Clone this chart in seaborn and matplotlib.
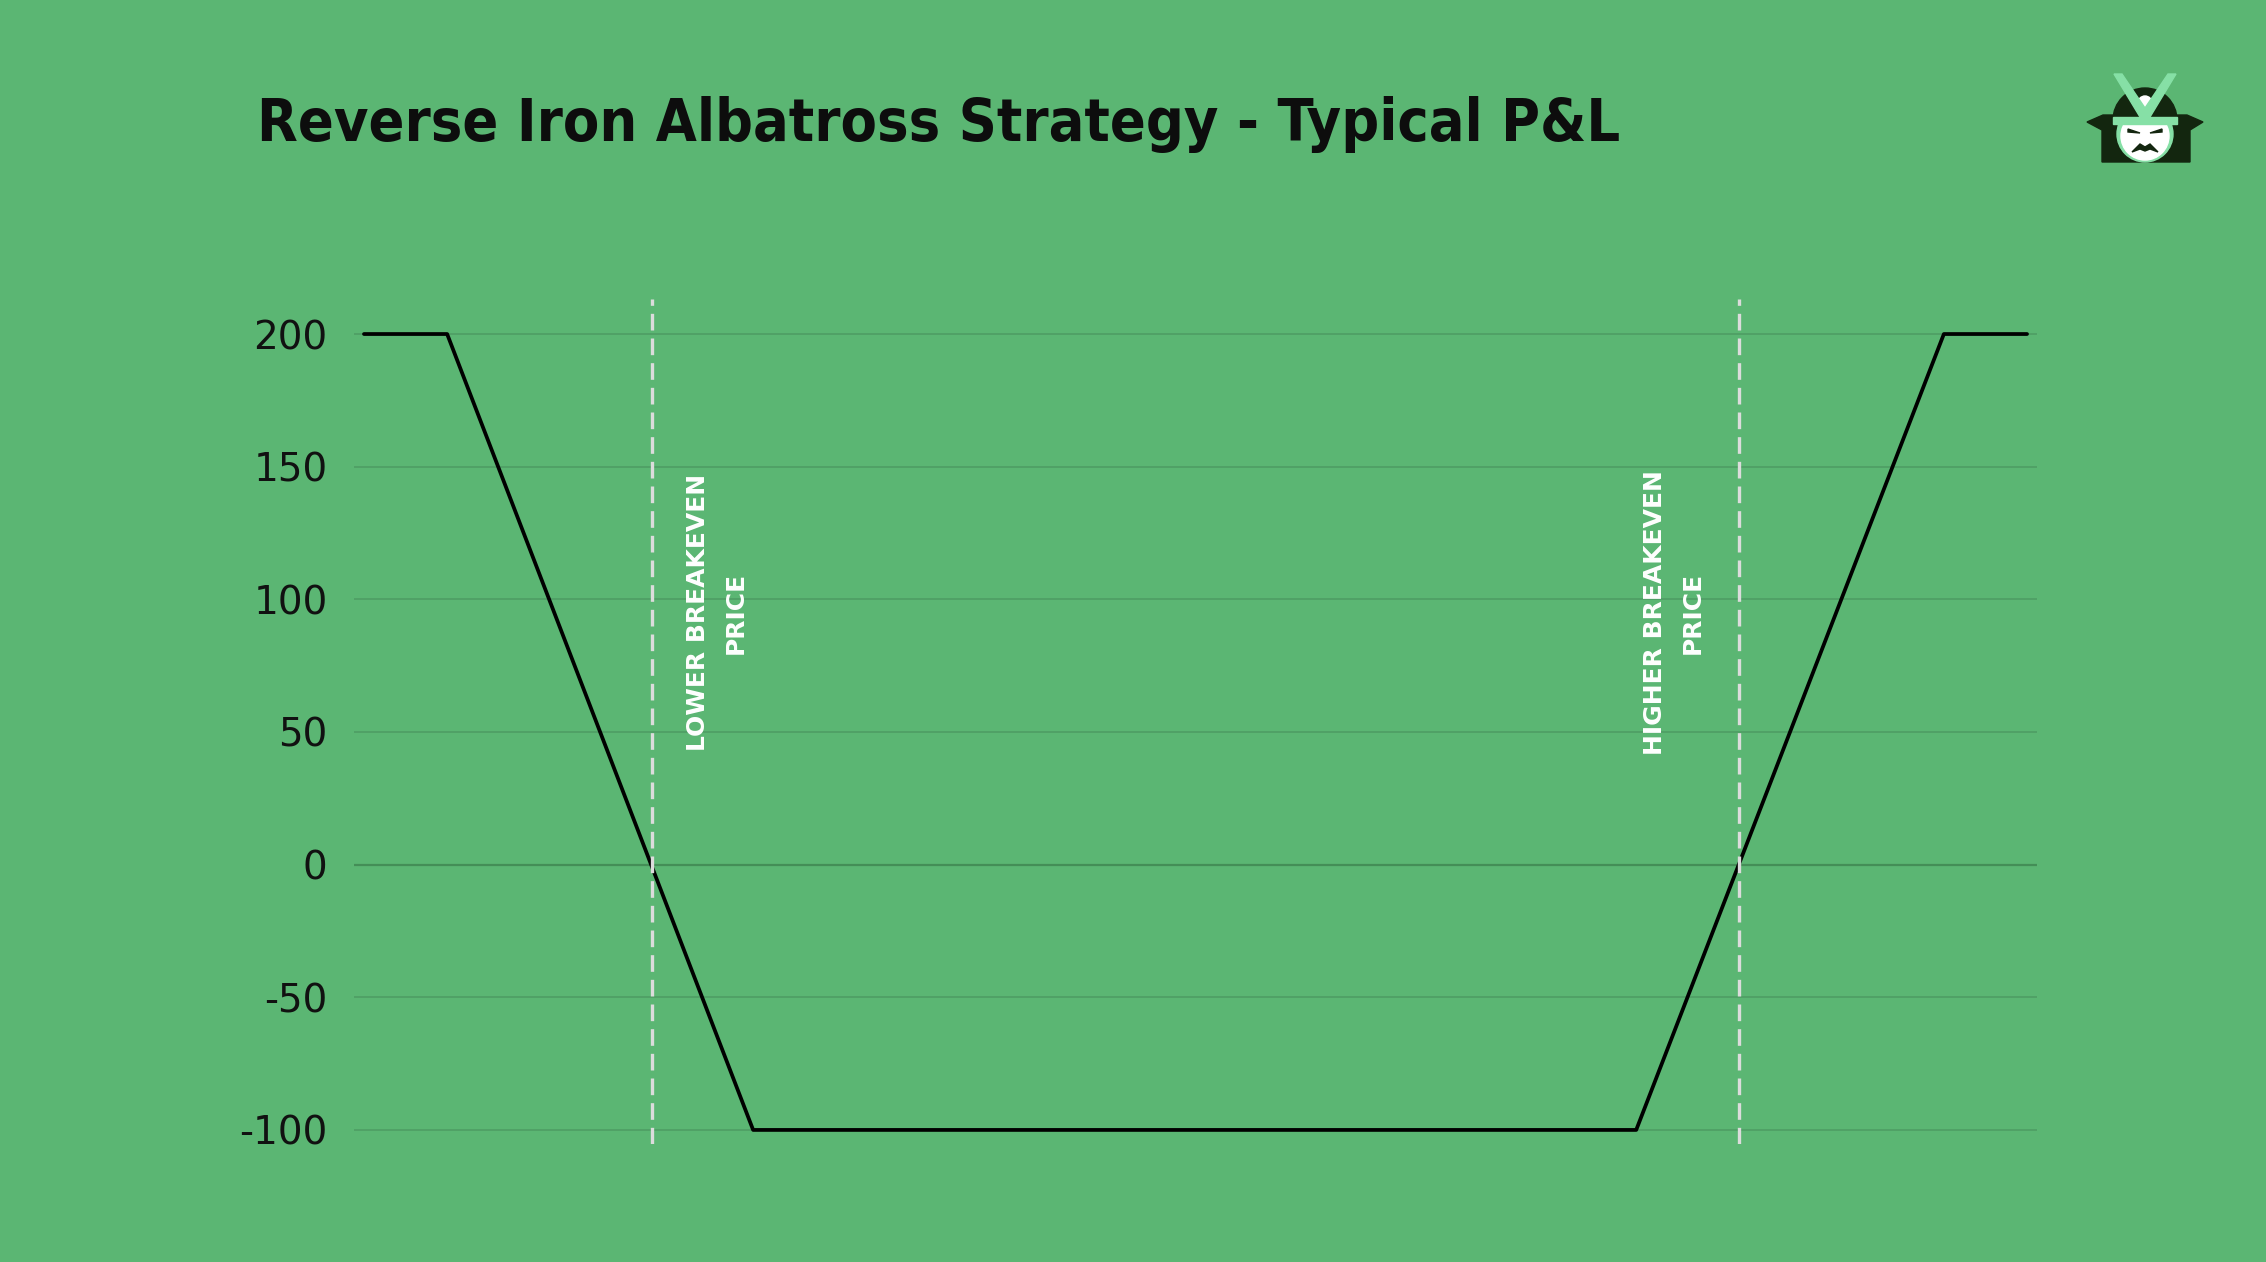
import matplotlib
matplotlib.use("Agg")
import matplotlib.pyplot as plt
import matplotlib.patches as mpatches
import seaborn as sns
import pandas as pd

# P&L at expiry vs underlying price
price = [80, 85, 103.4, 156.5, 175, 180]
pnl = [200, 200, -100, -100, 200, 200]
breakevens = [97.3, 162.7]
be_labels = ["LOWER BREAKEVEN\nPRICE", "HIGHER BREAKEVEN\nPRICE"]
yticks = [-100, -50, 0, 50, 100, 150, 200]
title = "Reverse Iron Albatross Strategy - Typical P&L"

bg = "#5bb673"
grid_c = "#4f9f65"
zero_c = "#448e57"

sns.set_theme(style="white")
plt.rcParams["font.family"] = ["DejaVu Sans"]

fig = plt.figure(figsize=(22.66, 12.62), dpi=100, facecolor=bg)
ax = fig.add_axes([354/2266, 1-1144/1262, 1683/2266, 845/1262])
ax.set_facecolor(bg)

df = pd.DataFrame({"price": price, "pnl": pnl})

for y in yticks:
    ax.axhline(y, color=zero_c if y == 0 else grid_c, lw=1.6 if y == 0 else 1.3, zorder=1)

sns.lineplot(data=df, x="price", y="pnl", color="black", lw=2.7, ax=ax, zorder=3,
             solid_capstyle="round")

for i, (b, lab) in enumerate(zip(breakevens, be_labels)):
    ax.axvline(b, color="#dcdcdc", lw=2.4, dashes=(5, 2.4), zorder=4)
    off = 47 if i == 0 else -47
    ax.annotate(lab, xy=(b, 95), xytext=(off, 0), textcoords="offset points",
                rotation=90, ha="center", va="center", multialignment="center",
                color="white", fontsize=18, fontweight="bold", linespacing=1.75)

ax.set_xlim(79.4, 180.6)
ax.set_ylim(-105.3, 213.2)
ax.set_yticks(yticks)
ax.set_yticklabels([str(v) for v in yticks])
ax.set_xticks([])
ax.tick_params(axis="y", length=0, pad=19, labelsize=28, labelcolor="#111111")
ax.set_xlabel("")
ax.set_ylabel("")
for s in ax.spines.values():
    s.set_visible(False)

fig.text(257/2266, 1-141/1262, title, fontsize=42.5, fontweight="bold",
         fontstretch="condensed", color="#0d0d0d", ha="left", va="baseline")

# logo (simple samurai mark)
lg = fig.add_axes([2070/2266, 1-180/1262, 150/2266, 130/1262])
lg.set_xlim(2070, 2220)
lg.set_ylim(180, 50)
lg.axis("off")
dark = "#13260f"
mint = "#86e0a6"
lg.add_patch(mpatches.Polygon([(2087, 122), (2103, 115), (2187, 115), (2203, 122),
                               (2190, 130), (2190, 162), (2102, 162), (2102, 130)],
                              closed=True, color=dark))
lg.add_patch(mpatches.Circle((2145, 134), 28, color=mint))
lg.add_patch(mpatches.Circle((2145, 136), 24, color="white"))
lg.add_patch(mpatches.Wedge((2145, 120), 32, 180, 360, color=dark))
lg.add_patch(mpatches.Rectangle((2113, 117), 64, 7, color=mint))
lg.add_patch(mpatches.Circle((2145, 103), 7, color="white"))
lg.add_patch(mpatches.Polygon([(2114, 74), (2122, 74), (2145, 108), (2168, 74), (2176, 74),
                               (2150, 117), (2140, 117)], closed=True, color=mint))
lg.add_patch(mpatches.Polygon([(2132, 152), (2140, 144), (2145, 147), (2150, 144),
                               (2158, 152), (2150, 149), (2145, 151), (2140, 149)],
                              closed=True, color=dark))
lg.add_patch(mpatches.Polygon([(2128, 129), (2140, 133), (2128, 132)], closed=True, color=dark))
lg.add_patch(mpatches.Polygon([(2162, 129), (2150, 133), (2162, 132)], closed=True, color=dark))

fig.savefig("out.png", dpi=100, facecolor=bg)
